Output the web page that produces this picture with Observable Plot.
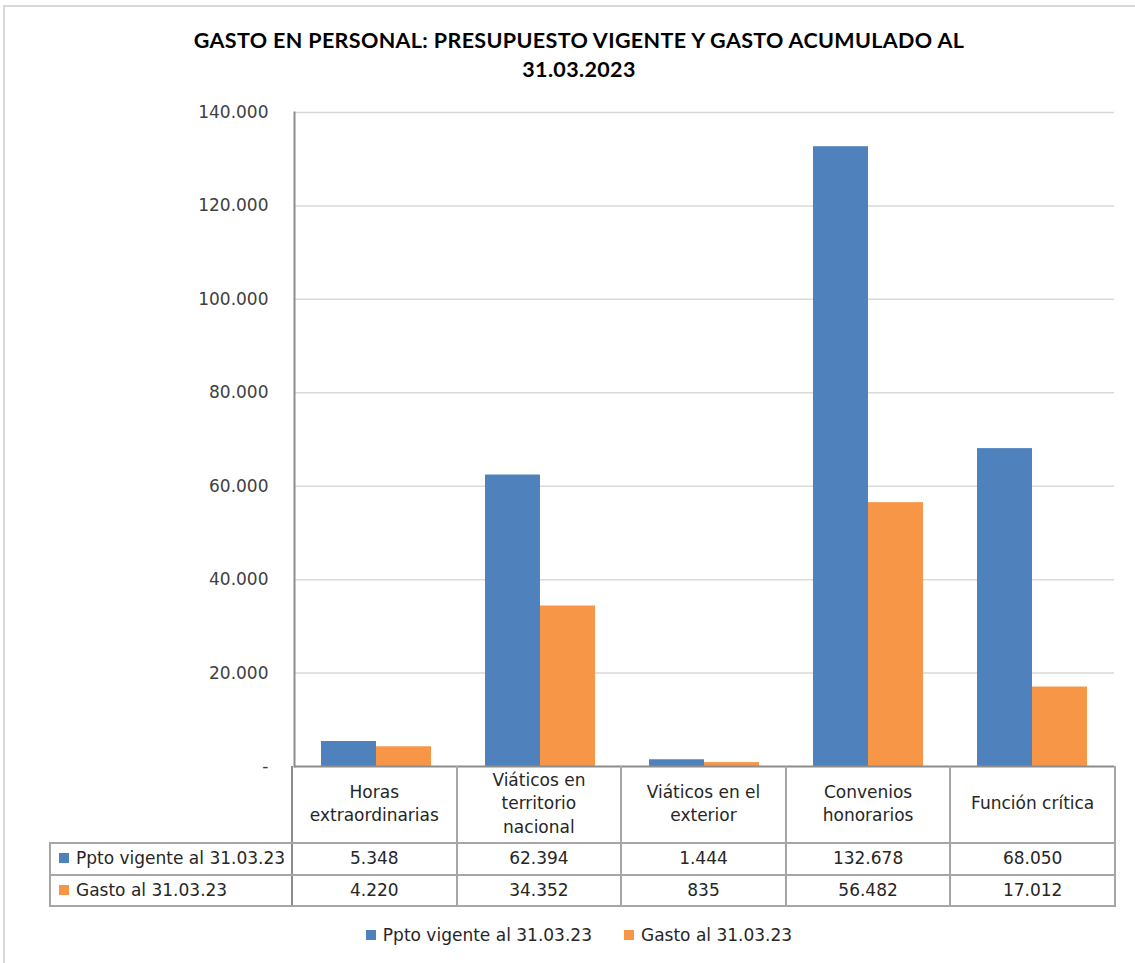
<!DOCTYPE html>
<html>
<head>
<meta charset="utf-8">
<script src="https://cdn.jsdelivr.net/npm/d3@7"></script>
<script src="https://cdn.jsdelivr.net/npm/@observablehq/plot@0.6"></script>
<style>
  body { margin: 0; background: #fff; }
  #wrap { position: relative; width: 1135px; height: 963px; overflow: hidden; font-family: "DejaVu Sans", sans-serif; color: #262626; }
  #frame { position: absolute; left: 3px; top: 5px; width: 1200px; height: 1200px; border-top: 2px solid #d9d9d9; border-left: 2px solid #d9d9d9; }
  #title { position: absolute; left: 0; width: 1158px; top: 26px; text-align: center; font: 700 21.5px Lato, "Open Sans", sans-serif; letter-spacing: 0.35px; line-height: 29px; color: #000; }
  #chart { position: absolute; left: 0; top: 90px; }
  #tbl { position: absolute; left: 49px; top: 766px; border-collapse: collapse; table-layout: fixed; font-size: 17px; color: #262626; }
  #tbl td, #tbl th { border: 2px solid #a6a6a6; text-align: center; padding: 0; font-weight: normal; overflow: visible; white-space: nowrap; }
  #tbl tr.hdr th { height: 76px; line-height: 23.5px; border-top: none; }
  #tbl tr.hdr td.blank { border-top: none; border-left: none; border-right: 2px solid #8c8c8c; }
  #tbl tr.row td { height: 29.5px; line-height: 29px; }
  #tbl tr.row td.lab { text-align: left; padding-left: 8px; border-right: 2px solid #8c8c8c; }
  .sw { display: inline-block; width: 10px; height: 10px; margin-right: 7px; vertical-align: 1px; }
  #legend { position: absolute; left: 0; width: 1158px; top: 925px; text-align: center; font-size: 17px; color: #262626; }
  #legend .item { display: inline-block; margin: 0 16px; }
</style>
</head>
<body>
<div id="wrap">
  <div id="frame"></div>
  <div id="title">GASTO EN PERSONAL: PRESUPUESTO VIGENTE Y GASTO ACUMULADO AL<br>31.03.2023</div>
  <div id="chart"></div>
  <table id="tbl"></table>
  <div id="legend"></div>
</div>
<script>
const categories = ["Horas extraordinarias", "Viáticos en territorio nacional", "Viáticos en el exterior", "Convenios honorarios", "Función crítica"];
const headerLines = [["Horas", "extraordinarias"], ["Viáticos en", "territorio", "nacional"], ["Viáticos en el", "exterior"], ["Convenios", "honorarios"], ["Función crítica"]];
const series = ["Ppto vigente al 31.03.23", "Gasto al 31.03.23"];
const ppto = [5348, 62394, 1444, 132678, 68050];
const gasto = [4220, 34352, 835, 56482, 17012];
const yTicks = [0, 20000, 40000, 60000, 80000, 100000, 120000, 140000];
const colors = ["#4F81BD", "#F79646"];

const values = [ppto, gasto];
const rows = categories.flatMap((c, i) => series.map((s, j) => ({cat: c, serie: s, value: values[j][i]})));
const fmt = d3.formatLocale({decimal: ",", thousands: ".", grouping: [3], currency: ["", ""]}).format(",d");

const chart = Plot.plot({
  width: 1135,
  height: 677,
  marginLeft: 292,
  marginRight: 20,
  marginTop: 22,
  marginBottom: 1,
  style: {fontFamily: "DejaVu Sans", fontSize: "17px", color: "#404040", background: "transparent", overflow: "visible"},
  fx: {domain: categories, padding: 0, axis: null},
  x: {domain: series, axis: null, paddingInner: 0, paddingOuter: 0.47},
  y: {domain: [0, 140000], axis: null},
  color: {domain: series, range: colors},
  marks: [
    Plot.ruleY(yTicks.slice(1), {stroke: "#d9d9d9", strokeWidth: 1.5}),
    Plot.barY(rows, {fx: "cat", x: "serie", y: "value", fill: "serie"}),
    Plot.axisY({ticks: yTicks, tickFormat: d => d === 0 ? "-" : fmt(d), tickSize: 0, tickPadding: 26, fill: "#404040", fontSize: 17, label: null}),
    Plot.frame({anchor: "left", stroke: "#8c8c8c", strokeWidth: 2, facetAnchor: "left"}),
    Plot.ruleY([0], {stroke: "#8c8c8c", strokeWidth: 2})
  ]
});
document.getElementById("chart").appendChild(chart);

// data table
const colW = (1115 - 292) / categories.length;
const tbl = d3.select("#tbl");
const cg = tbl.append("colgroup");
cg.append("col").style("width", (292 - 50) + "px");
categories.forEach(() => cg.append("col").style("width", colW + "px"));
const hdr = tbl.append("tr").attr("class", "hdr");
hdr.append("td").attr("class", "blank");
headerLines.forEach(lines => hdr.append("th").html(lines.join("<br>")));
series.forEach((s, j) => {
  const tr = tbl.append("tr").attr("class", "row");
  const lab = tr.append("td").attr("class", "lab");
  lab.append("span").attr("class", "sw").style("background", colors[j]);
  lab.append("span").text(s);
  values[j].forEach(v => tr.append("td").text(fmt(v)));
});

// legend
const lg = d3.select("#legend");
series.forEach((s, j) => {
  const it = lg.append("span").attr("class", "item");
  it.append("span").attr("class", "sw").style("background", colors[j]);
  it.append("span").text(s);
});
</script>
</body>
</html>
